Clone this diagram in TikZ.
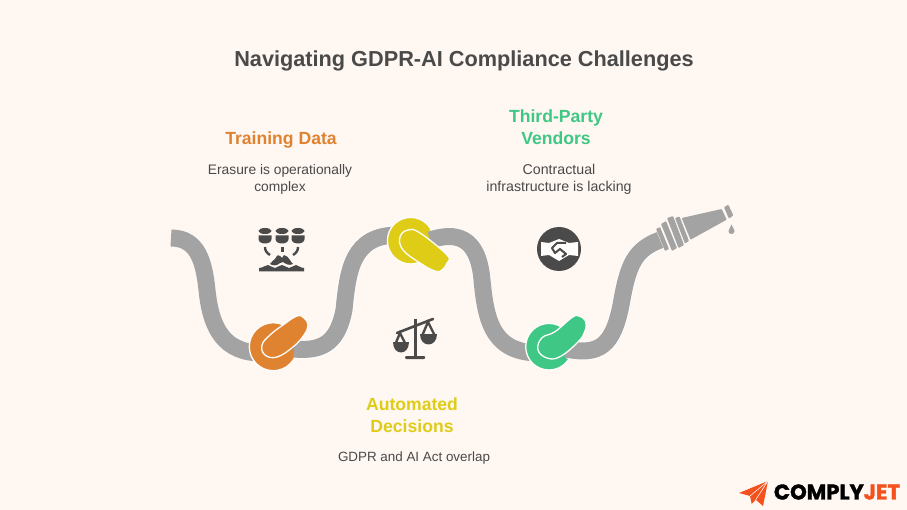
\documentclass[tikz,border=0pt]{standalone}
\usepackage{fontspec}
\setmainfont{Liberation Sans}
\newfontfamily\logofont[BoldFeatures={FakeBold=1.6}]{Poppins}
\usetikzlibrary{positioning,calc}
\definecolor{paper}{HTML}{FFF7F2}
\definecolor{ink}{HTML}{4A4A4A}
\definecolor{hose}{HTML}{A3A3A3}
\definecolor{knotorange}{HTML}{E08330}
\definecolor{knotyellow}{HTML}{DFCC17}
\definecolor{knotgreen}{HTML}{3EC785}
\definecolor{planeorange}{HTML}{F4511E}

\begin{document}
\begin{tikzpicture}[x=1pt, y=-1pt,
  heading/.style = {font=\bfseries\fontsize{17.6}{22}\selectfont, align=center},
  subtext/.style = {text=ink, font=\fontsize{13.8}{17}\selectfont, align=center},
  casing/.style = {line width=19pt, white!70!paper},
  tube/.style = {line width=17pt, hose},
  disc/.style = {draw=white!70!paper, line width=1.3pt},
  bean/.style = {draw=white!70!paper, line width=1.3pt},
  nozzle/.style = {fill=hose, rounded corners=0.8pt},
  icon/.style = {fill=ink}
  ]
  \fill[paper] (0,0) rectangle (907,510);

  % title
  \node[text=ink, font=\bfseries\fontsize{21.7}{26}\selectfont] (title) at (464,61) {Navigating GDPR-AI Compliance Challenges};

  % labels
  \node[heading, text=knotorange] (training) at (281,140) {Training Data};
  \node[subtext] (training-sub) at (280,179) {Erasure is operationally\\complex};
  \node[heading, text=knotgreen] (vendors) at (556,127) {Third-Party\\Vendors};
  \node[subtext, font=\fontsize{14.2}{17}\selectfont] (vendors-sub) at (559,179) {Contractual\\infrastructure is lacking};
  \node[heading, text=knotyellow] (decisions) at (412,415) {Automated\\Decisions};
  \node[subtext, font=\fontsize{13.4}{17}\selectfont] (decisions-sub) at (414,458) {GDPR and AI Act overlap};

  % hose, left to right
  \draw[tube] (171,238) .. controls (198,238) and (204,262) .. (207,290)
    .. controls (211,330) and (225,353) .. (262,353);

  \fill[knotorange, disc] (273.3,346.7) circle (24);
  \draw[casing] (296,349) .. controls (325,352) and (338,340) .. (344,310)
    .. controls (348,270) and (352,235) .. (398,235);
  \draw[tube] (294,349) .. controls (325,352) and (338,340) .. (344,310)
    .. controls (348,270) and (352,235) .. (398,235);
  \draw[bean, fill=knotorange] plot[smooth cycle, tension=0.7] coordinates
    {(297,316) (304,318) (308,325) (304,335) (293,347) (277,357) (265,355) (262,345) (270,335) (283,325)};

  \fill[knotyellow, disc] (410.7,240.7) circle (23.3);
  \draw[casing] (432,240) .. controls (455,232) and (478,235) .. (482,280);
  \draw[tube] (430,240) .. controls (455,232) and (478,235) .. (482,280)
    .. controls (486,325) and (495,353) .. (540,353);
  \draw[bean, fill=knotyellow] plot[smooth cycle, tension=0.7] coordinates
    {(400,237) (408,230) (420,233) (447,255) (447,263) (442,270) (435,271) (420,263) (403,250)};

  \fill[knotgreen, disc] (549,346.7) circle (23.3);
  \draw[casing] (568,349) .. controls (600,356) and (613,345) .. (621,305)
    .. controls (628,265) and (634,250) .. (660,240);
  \draw[tube] (566,349) .. controls (600,356) and (613,345) .. (621,305)
    .. controls (628,265) and (634,250) .. (660,240);
  \draw[bean, fill=knotgreen] plot[smooth cycle, tension=0.7] coordinates
    {(572,317.5) (579,316) (585.5,321) (585,331) (578,342) (560,356.7) (547,358) (538,350) (541.7,338) (555,331.7)};

  % nozzle
  \fill[nozzle] (656,229) -- (660,227) -- (669,249) -- (665,251) -- cycle;
  \fill[nozzle] (661,224) -- (666,221) -- (677,248) -- (672,251) -- cycle;
  \fill[nozzle] (667,218) -- (673,216) -- (684,245) -- (678.5,248) -- cycle;
  \fill[nozzle] (675,218) -- (679.5,216.5) -- (689,241) -- (685,243.5) -- cycle;
  \fill[nozzle] (681.7,218) -- (721.7,209) -- (726.7,219.7) -- (690.5,239.7) -- cycle;
  \fill[nozzle] (724,207.3) -- (728.3,204.7) -- (733.3,215.3) -- (729,218.7) -- cycle;
  \fill[hose] (731.5,224.5) .. controls (732,227) and (734.5,229) .. (734.5,231)
    .. controls (734.5,235) and (728.5,235) .. (728.5,231)
    .. controls (728.5,229) and (731,227) .. (731.5,224.5) -- cycle;

  % icon: databases above the splash
  \foreach \cx in {265,282,298} {
    \fill[icon] (\cx,231) ellipse (6.5 and 3);
    \fill[icon] (\cx-6.5,235.5) -- (\cx+6.5,235.5) -- (\cx+6.5,239)
      .. controls (\cx+6.5,245) and (\cx-6.5,245) .. (\cx-6.5,239) -- cycle;
  }
  \fill[icon] (281,247) rectangle (283.5,252);
  \draw[ink, line width=2.4pt] (265,247) .. controls (265,251) and (267,253) .. (270,255);
  \draw[ink, line width=2.4pt] (298,247) .. controls (298,251) and (296,253) .. (293,255);
  \fill[icon] (270,264) .. controls (272,262) and (273,260) .. (275,259)
    .. controls (277,255) and (279,254) .. (280,256) -- (282,258) -- (284,255)
    .. controls (287,255) and (288,258) .. (290,260) .. controls (291,262) and (292,263) .. (293,264)
    .. controls (289,266) and (286,264) .. (283,262) -- (280,263) .. controls (277,266) and (273,266) .. (270,264) -- cycle;
  \fill[icon] (259,268) .. controls (263,268) and (265,265) .. (268,265)
    .. controls (270,265) and (272,268) .. (275,268) .. controls (277,268) and (279,265) .. (282,265)
    .. controls (285,265) and (286,268) .. (289,268) .. controls (292,268) and (293,265) .. (296,265)
    .. controls (298,265) and (300,268) .. (304,268) -- (304,271.5) -- (259,271.5) -- cycle;

  % icon: scales
  \fill[icon] (413.5,319) rectangle (416.5,357);
  \fill[icon, rounded corners=1pt] (405,356) rectangle (425,359);
  \draw[ink, line width=2.6pt, line cap=round] (397,333) -- (433,319);
  \draw[ink, line width=2.4pt] (395,345) -- (400,333) -- (406,345);
  \fill[icon] (392.5,342) -- (408.5,342) .. controls (408.5,356) and (392.5,356) .. (392.5,342) -- cycle;
  \draw[ink, line width=2.4pt] (422,336) -- (428,322) -- (435,336);
  \fill[icon] (420,334) -- (437,334) .. controls (437,347.5) and (420,347.5) .. (420,334) -- cycle;

  % icon: handshake
  \fill[icon] (559,249) circle (22);
  \fill[white!70!paper] (541,242) -- (549,243) -- (559,239) -- (569,243) -- (578,242)
    -- (578,256) -- (569,255) -- (559,261) -- (549,255) -- (541,256) -- cycle;
  \draw[ink, line width=2pt, line join=round] (566,243) -- (557,243) -- (552,248) -- (555,253)
    -- (560,249) -- (566,254) -- (562,257);

  % logo
  \fill[planeorange] (768,481) -- (739,493) -- (750,496) -- (751.7,504) -- (755.7,499.7) -- (763,506) -- cycle;
  \draw[paper, line width=0.6pt] (768,481) -- (750,496) (768,481) -- (755.7,499.7);
  \node[font=\logofont\bfseries\fontsize{21.2}{22}\selectfont, inner sep=0pt] (logo) at (837,492)
    {COMPLY\textcolor{planeorange}{JET}};
\end{tikzpicture}
\end{document}
